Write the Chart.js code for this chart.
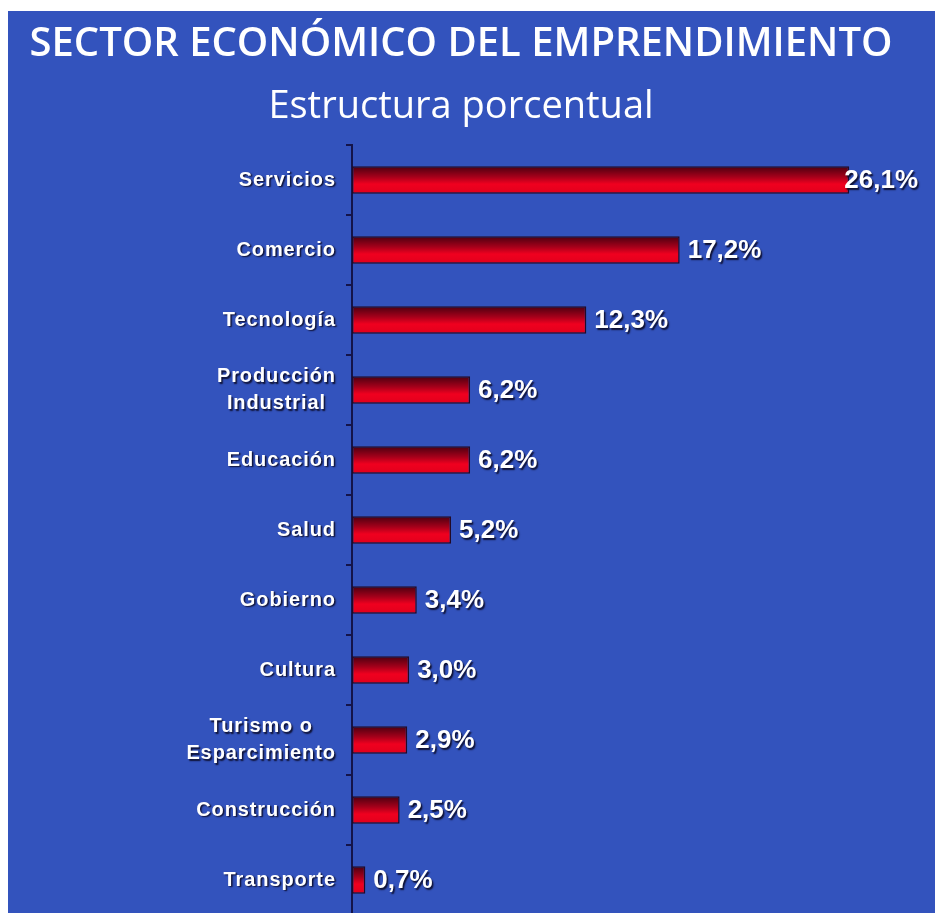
<!DOCTYPE html>
<html lang="es">
<head>
<meta charset="utf-8">
<title>Sector económico del emprendimiento</title>
<script src="https://cdn.jsdelivr.net/npm/chart.js@4"></script>
<style>
  html, body { margin: 0; padding: 0; background: #ffffff; width: 935px; height: 913px; overflow: hidden; }
  #panel { position: absolute; left: 8px; top: 11px; width: 927px; height: 920px; background: #3353bd; }
  canvas { display: block; }
</style>
</head>
<body>
<div id="panel"><canvas id="grafico" width="927" height="920"></canvas></div>
<script>
// Sectores (de mayor a menor participación) y su peso porcentual
const sectores = [
  'Servicios',
  'Comercio',
  'Tecnología',
  ['Producción', 'Industrial'],
  'Educación',
  'Salud',
  'Gobierno',
  'Cultura',
  ['Turismo o', 'Esparcimiento'],
  'Construcción',
  'Transporte'
];
const porcentajes = [26.1, 17.2, 12.3, 6.2, 6.2, 5.2, 3.4, 3.0, 2.9, 2.5, 0.7];

const titulo = 'SECTOR ECONÓMICO DEL EMPRENDIMIENTO';
const subtitulo = 'Estructura porcentual';

const BAR_PCT = 0.39;
const EJE = '#14144a';

const formato = v => v.toFixed(1).replace('.', ',') + '%';

// Degradado vertical rojo para cada barra
function rellenoBarra(c) {
  const chart = c.chart;
  const ys = chart.scales && chart.scales.y;
  if (!chart.chartArea || !ys || c.dataIndex === undefined) return '#d4001c';
  const cy = ys.getPixelForValue(c.dataIndex);
  const h = (ys.height / sectores.length) * BAR_PCT;
  const g = chart.ctx.createLinearGradient(0, cy - h / 2, 0, cy + h / 2);
  g.addColorStop(0, '#4a0010');
  g.addColorStop(0.38, '#a4001a');
  g.addColorStop(0.65, '#f0001f');
  g.addColorStop(1, '#e0001c');
  return g;
}

function sombra(ctx) {
  ctx.shadowColor = 'rgba(12,12,40,0.95)';
  ctx.shadowOffsetX = 1.5;
  ctx.shadowOffsetY = 1.5;
  ctx.shadowBlur = 1.5;
}

// Etiquetas de categoría: bloque alineado a la derecha, líneas centradas entre sí
const etiquetasSectores = {
  id: 'etiquetasSectores',
  afterDraw(chart) {
    const ctx = chart.ctx;
    const ys = chart.scales.y;
    const ls = 0.9;
    ctx.save();
    ctx.font = 'bold 20px "Liberation Sans", Arial, sans-serif';
    ctx.letterSpacing = ls + 'px';
    ctx.fillStyle = '#ffffff';
    ctx.textBaseline = 'middle';
    ctx.textAlign = 'left';
    sombra(ctx);
    const derecha = ys.right - 17;
    chart.data.labels.forEach((lab, i) => {
      const lineas = Array.isArray(lab) ? lab : [lab];
      const anchos = lineas.map(t => ctx.measureText(t).width - ls);
      const maxW = Math.max(...anchos);
      const cy = ys.getPixelForValue(i);
      lineas.forEach((t, k) => {
        const yy = cy + (k - (lineas.length - 1) / 2) * 27;
        const x = derecha - maxW / 2 - anchos[k] / 2;
        ctx.fillText(t, x, yy);
      });
    });
    ctx.restore();
  }
};

// Valor porcentual al final de cada barra
const valoresBarras = {
  id: 'valoresBarras',
  afterDatasetsDraw(chart) {
    const ctx = chart.ctx;
    const meta = chart.getDatasetMeta(0);
    ctx.save();
    ctx.font = 'bold 26px "Liberation Sans", Arial, sans-serif';
    ctx.fillStyle = '#ffffff';
    ctx.textBaseline = 'middle';
    ctx.textAlign = 'left';
    sombra(ctx);
    const limite = chart.width - 17;
    meta.data.forEach((bar, i) => {
      const txt = formato(chart.data.datasets[0].data[i]);
      const w = ctx.measureText(txt).width;
      let x = bar.x + 8;
      if (x + w > limite) x = limite - w;
      ctx.fillText(txt, x, bar.y + 1);
    });
    ctx.restore();
  }
};

new Chart(document.getElementById('grafico'), {
  type: 'bar',
  data: {
    labels: sectores,
    datasets: [{
      data: porcentajes,
      backgroundColor: rellenoBarra,
      borderColor: '#220a26',
      borderWidth: 1.5,
      borderSkipped: false,
      categoryPercentage: 1,
      barPercentage: BAR_PCT
    }]
  },
  plugins: [etiquetasSectores, valoresBarras],
  options: {
    indexAxis: 'y',
    responsive: false,
    animation: false,
    layout: { padding: { left: 0, right: 21, top: 0, bottom: 16 } },
    plugins: {
      legend: { display: false },
      tooltip: { enabled: false },
      title: {
        display: true,
        text: titulo,
        color: '#ffffff',
        font: { family: '"Open Sans", sans-serif', size: 40, weight: '600', lineHeight: 1 },
        padding: { top: 14, bottom: 0 }
      },
      subtitle: {
        display: true,
        text: subtitulo,
        color: '#ffffff',
        font: { family: '"Open Sans", sans-serif', size: 38, weight: 'normal', lineHeight: 1 },
        padding: { top: 23, bottom: 19 }
      }
    },
    scales: {
      x: { display: false, min: 0, max: 29.5 },
      y: {
        type: 'category',
        offset: true,
        grid: { drawOnChartArea: false, drawTicks: true, tickLength: 6, color: EJE, lineWidth: 2, offset: true },
        border: { display: true, color: EJE, width: 2 },
        ticks: { display: false },
        afterFit(s) { s.width = 344; }
      }
    }
  }
});
</script>
</body>
</html>
